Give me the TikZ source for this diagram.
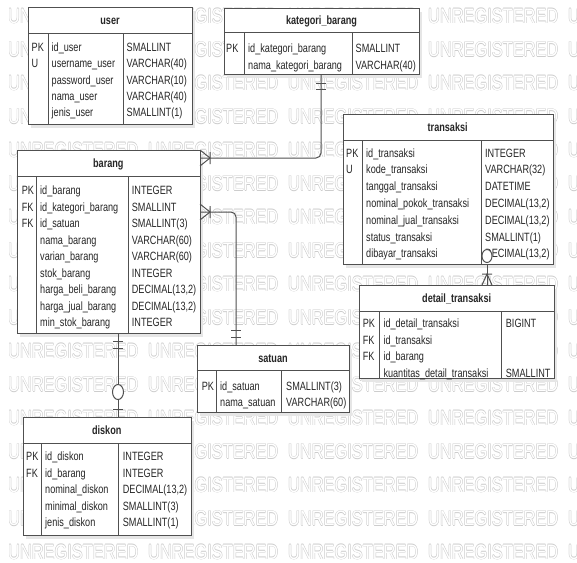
\documentclass[tikz,border=0pt]{standalone}
\usepackage{fontspec}
\newfontfamily\nar[FakeStretch=0.76]{Liberation Sans}
\newfontfamily\wmf[FakeStretch=0.78]{Liberation Sans}
\definecolor{linec}{HTML}{505050}
\definecolor{textc}{HTML}{262626}
\definecolor{wmc}{HTML}{CDCDCD}
\definecolor{shadc}{HTML}{E6E6E6}
\tikzset{
  ent/.style={draw=linec, fill=white, line width=1pt, inner sep=0pt, anchor=north west},
  ttl/.style={font=\nar\bfseries\fontsize{12}{14}\selectfont, text=textc, inner sep=0pt, anchor=base},
  cell/.style={font=\nar\fontsize{12}{14}\selectfont, text=textc, inner sep=0pt, anchor=base west},
  conn/.style={draw=linec, line width=1pt},
  wmt/.style={font=\wmf\fontsize{21}{21}\selectfont, inner sep=0pt, anchor=west},
}
\newcommand\wmrow{\makebox[140pt][l]{UNREGISTERED}\makebox[140pt][l]{UNREGISTERED}\makebox[140pt][l]{UNREGISTERED}\makebox[140pt][l]{UNREGISTERED}\makebox[140pt][l]{UNREGISTERED}}
% #1 name #2 x1 #3 y1 #4 x2 #5 y2 #6 header y #7 col1 #8 col2 #9 title
\newcommand\entbox[9]{%
  \fill[shadc] (#2+3,#3+4) rectangle (#4+3,#5+4);
  \node[ent, minimum width={(#4-#2)*1pt}, minimum height={(#5-#3)*1pt}] (#1) at (#2,#3) {};
  \draw[conn] (#2,#6) -- (#4,#6) (#7,#6) -- (#7,#5) (#8,#6) -- (#8,#5);
  \node[ttl] (#1-title) at ({(#2+#4)/2},{(#3+#6)/2+4.3}) {#9};
}
% #1 prefix #2 x #3 first baseline #4 step #5 list
\newcommand\colm[5]{\foreach \t [count=\i] in {#5} {\node[cell] (#1-\i) at (#2,{#3+(\i-1)*#4}) {\t};}}
\begin{document}
\begin{tikzpicture}[x=1pt,y=-1pt]
\useasboundingbox (0,0) rectangle (577,562);
\clip (0,0) rectangle (577,562);
\fill[white] (0,0) rectangle (577,562);
% watermark
\foreach \r in {0,...,16}{
  \pgfmathsetmacro\yy{16+33.5*\r}
  \foreach \dx/\dy in {0.45/0,-0.45/0,0/0.45,0/-0.45}{
    \pgfmathsetmacro\yc{\yy+\dy}
    \pgfmathsetmacro\xc{8+\dx}
    \node[wmt,text=wmc] at (\xc,\yc) {\wmrow};
  }
  \node[wmt,text=white] (wm-\r) at (8,\yy) {\wmrow};
}
% entities
\entbox{user}{28}{7}{192}{124}{33}{48}{123}{user}
\colm{user-k}{31.5}{51.5}{16.3}{PK,U}
\colm{user-n}{51.5}{51.5}{16.3}{id\_user,username\_user,password\_user,nama\_user,jenis\_user}
\colm{user-t}{126.5}{51.5}{16.3}{SMALLINT,VARCHAR(40),VARCHAR(10),VARCHAR(40),SMALLINT(1)}

\entbox{kat}{224}{8}{419}{74}{32}{244}{352}{kategori\_barang}
\colm{kat-k}{226}{52.3}{16.7}{PK}
\colm{kat-n}{248}{52.3}{16.7}{id\_kategori\_barang,nama\_kategori\_barang}
\colm{kat-t}{355.5}{52.3}{16.7}{SMALLINT,VARCHAR(40)}

\entbox{trx}{342.7}{114}{552.7}{264}{140.7}{362.7}{481.7}{transaksi}
\colm{trx-k}{346}{157}{16.8}{PK,U}
\colm{trx-n}{366}{157}{16.8}{id\_transaksi,kode\_transaksi,tanggal\_transaksi,nominal\_pokok\_transaksi,nominal\_jual\_transaksi,status\_transaksi,dibayar\_transaksi}
\colm{trx-t}{485}{157}{16.8}{INTEGER,VARCHAR(32),DATETIME,DECIMAL(13{,}2),DECIMAL(13{,}2),SMALLINT(1),DECIMAL(13{,}2)}

\entbox{barang}{16.7}{150}{200}{332.7}{176}{36.7}{128}{barang}
\colm{barang-k}{21.7}{194.7}{16.5}{PK,FK,FK}
\colm{barang-n}{40}{194.7}{16.5}{id\_barang,id\_kategori\_barang,id\_satuan,nama\_barang,varian\_barang,stok\_barang,harga\_beli\_barang,harga\_jual\_barang,min\_stok\_barang}
\colm{barang-t}{131.7}{194.7}{16.5}{INTEGER,SMALLINT,SMALLINT(3),VARCHAR(60),VARCHAR(60),INTEGER,DECIMAL(13{,}2),DECIMAL(13{,}2),INTEGER}

\entbox{sat}{196.7}{345}{349.3}{411.7}{370.7}{216.7}{281.7}{satuan}
\colm{sat-k}{201.7}{390.7}{15.5}{PK}
\colm{sat-n}{220}{390.7}{15.5}{id\_satuan,nama\_satuan}
\colm{sat-t}{286}{390.7}{15.5}{SMALLINT(3),VARCHAR(60)}

\entbox{det}{359.3}{285}{554}{378}{311.7}{379.3}{501.7}{detail\_transaksi}
\colm{det-k}{362.7}{327.3}{16.7}{PK,FK,FK}
\colm{det-n}{383.3}{327.3}{16.7}{id\_detail\_transaksi,id\_transaksi,id\_barang,kuantitas\_detail\_transaksi}
\node[cell] (det-t-1) at (505.7,327.3) {BIGINT};
\node[cell] (det-t-4) at (505.7,377.4) {SMALLINT};

\entbox{disk}{22.7}{416.7}{190.7}{535}{443.3}{41.7}{118.3}{diskon}
\colm{disk-k}{26}{460.7}{16.5}{PK,FK}
\colm{disk-n}{45}{460.7}{16.5}{id\_diskon,id\_barang,nominal\_diskon,minimal\_diskon,jenis\_diskon}
\colm{disk-t}{122.7}{460.7}{16.5}{INTEGER,INTEGER,DECIMAL(13{,}2),SMALLINT(3),SMALLINT(1)}

% connectors
\coordinate (cx1) at (321,0);
\coordinate (cy1) at (0,158);
\coordinate (cx2) at (236,0);
\coordinate (cy2) at (0,212);
\coordinate (cx3) at (118,0);
\coordinate (cx4) at (487,0);
\draw[conn, rounded corners=5pt] (kat.south -| cx1) |- (barang.east |- cy1);
\draw[conn] (316,83) -- (326,83) (316,89) -- (326,89);
\draw[conn] (200,150) -- (210,158) -- (200,166) (210,152) -- (210,164);

\draw[conn, rounded corners=5pt] (sat.north -| cx2) |- (barang.east |- cy2);
\draw[conn] (231,330.7) -- (241,330.7) (231,337.3) -- (241,337.3);
\draw[conn] (200,204) -- (210,212) -- (200,220) (210,206) -- (210,218);

\draw[conn] (barang.south -| cx3) -- (disk.north -| cx3);
\draw[conn] (113,341.7) -- (123,341.7) (113,348.3) -- (123,348.3) (113,409) -- (123,409);
\draw[conn, fill=white] (118,392) ellipse [x radius=5.5, y radius=7.5];

\draw[conn] (trx.south -| cx4) -- (det.north -| cx4);
\draw[conn] (482,285) -- (487,274) -- (492,285) (482,274) -- (492,274);
\draw[conn, fill=white] (487,256) ellipse [x radius=5, y radius=6.5];
\end{tikzpicture}
\end{document}
